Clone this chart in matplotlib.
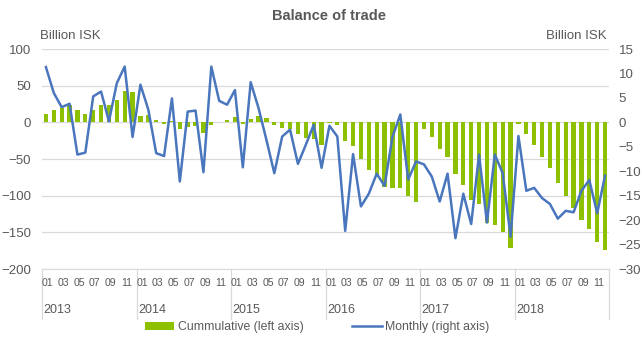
import matplotlib
matplotlib.use("Agg")
import matplotlib.pyplot as plt
from matplotlib.patches import Patch
from matplotlib.lines import Line2D
from matplotlib.transforms import blended_transform_factory

years = ["2013", "2014", "2015", "2016", "2017", "2018"]
month_labels = ["01", "03", "05", "07", "09", "11"]

# cumulative balance within each year, billion ISK (left axis)
cumulative = [
    11.6, 17.0, 20.2, 24.0, 17.0, 11.6, 17.0, 23.4, 23.4, 30.7, 43.0, 40.7,
    8.0, 10.2, 3.6, -2.5, 1.5, -9.3, -7.0, -5.0, -14.8, -3.8, 0.3, 3.6,
    6.6, -2.5, 4.8, 8.9, 6.1, -4.3, -7.1, -8.9, -16.1, -20.7, -22.5, -30.7,
    -1.0, -3.4, -26.0, -32.0, -50.0, -65.0, -74.0, -87.5, -90.0, -89.0, -100.0, -108.0,
    -8.9, -20.2, -36.0, -46.6, -70.5, -85.0, -105.7, -111.6, -137.0, -139.5, -149.0, -172.0,
    -2.5, -16.5, -30.7, -46.6, -62.5, -82.5, -100.3, -117.0, -133.0, -145.3, -162.6, -174.5,
]

# monthly balance, billion ISK (right axis)
monthly = [
    11.3, 6.0, 3.1, 3.8, -6.6, -6.2, 5.3, 6.3, 0.2, 8.0, 11.4, -3.0,
    7.7, 2.6, -6.3, -6.9, 4.9, -12.1, 2.2, 2.4, -10.2, 11.4, 4.4, 3.6,
    6.6, -9.2, 8.2, 2.9, -3.6, -10.4, -2.9, -1.5, -8.5, -4.6, -0.5, -9.3,
    -0.7, -2.9, -22.2, -6.5, -17.2, -14.6, -10.5, -13.0, -3.0, 1.6, -11.7, -8.0,
    -8.6, -11.1, -16.2, -10.5, -23.7, -14.6, -20.8, -6.6, -20.5, -6.6, -10.4, -23.4,
    -2.8, -14.0, -13.4, -15.5, -16.7, -19.7, -18.1, -18.4, -14.0, -11.8, -18.6, -10.9,
]

GREEN = "#8DC000"
BLUE = "#4A76BE"
GREY = "#595959"

plt.rcParams["font.family"] = ["Liberation Sans", "DejaVu Sans"]

fig = plt.figure(figsize=(6.42, 3.40), dpi=100)
ax = fig.add_axes([42 / 642, 71 / 340, 567 / 642, 220 / 340])
ax2 = ax.twinx()

x = list(range(len(monthly)))
ax.bar(x, cumulative, width=0.55, color=GREEN, zorder=2)
ax2.plot(x, monthly, color=BLUE, linewidth=1.8, zorder=3)

ax.set_xlim(-0.5, len(x) - 0.5)
ax.set_ylim(-200, 100)
ax2.set_ylim(-30, 15)
ax.set_yticks(range(-200, 101, 50))
ax2.set_yticks(range(-30, 16, 5))

ax.grid(axis="y", color="#D9D9D9", linewidth=0.9, zorder=0)
ax.set_axisbelow(True)
for a in (ax, ax2):
    for s in a.spines.values():
        s.set_visible(False)
    a.tick_params(length=0, labelsize=9.5, colors=GREY)
ax.spines["bottom"].set_visible(True)
ax.spines["bottom"].set_color("#D9D9D9")
ax.set_xticks([])
ax.tick_params(axis="y", pad=8)
ax2.tick_params(axis="y", pad=7)

# two-level category axis
trans = blended_transform_factory(ax.transData, ax.transAxes)
for k, yr in enumerate(years):
    start = 12 * k - 0.5
    ax.plot([start, start], [0, -0.225], transform=trans, color="#D9D9D9",
            linewidth=0.9, clip_on=False)
    for j, ml in enumerate(month_labels):
        ax.text(12 * k + 2 * j + 0.2, -0.065, ml, transform=trans, ha="center",
                va="center", fontsize=7.6, color=GREY)
    ax.text(start + 0.2, -0.185, yr, transform=trans, ha="left", va="center",
            fontsize=9, color=GREY)
end = len(x) - 0.5
ax.plot([end, end], [0, -0.225], transform=trans, color="#D9D9D9",
        linewidth=0.9, clip_on=False)

fig.text(0.513, 0.952, "Balance of trade", ha="center", va="center",
         fontsize=10.5, fontweight="bold", color=GREY)
fig.text(40 / 642, 0.895, "Billion ISK", ha="left", va="center", fontsize=9.5, color=GREY)
fig.text(607 / 642, 0.895, "Billion ISK", ha="right", va="center", fontsize=9.5, color=GREY)

handles = [Patch(facecolor=GREEN, edgecolor="none"),
           Line2D([0], [0], color=BLUE, linewidth=1.8)]
fig.legend(handles, ["Cummulative (left axis)", "Monthly (right axis)"],
           loc="center", bbox_to_anchor=(0.494, 0.038), ncol=2, frameon=False,
           fontsize=8.8, handlelength=2.4, handleheight=0.6, columnspacing=4.0,
           handletextpad=0.3, labelcolor=GREY)

fig.savefig("out.png", dpi=100)
